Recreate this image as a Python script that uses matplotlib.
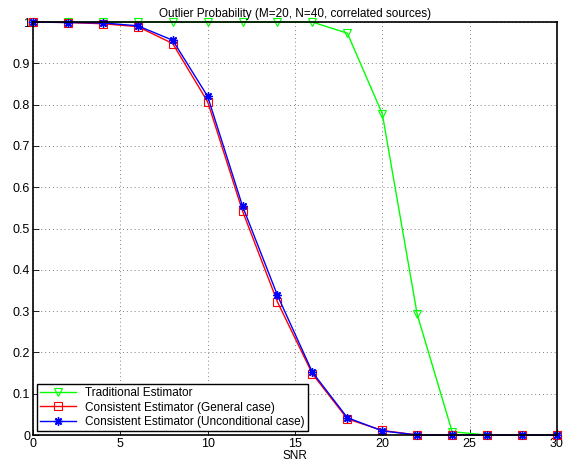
import matplotlib.pyplot as plt

plt.rcParams['font.family'] = ['Liberation Sans', 'DejaVu Sans']
plt.rcParams['font.size'] = 8

# data
snr = [0, 2, 4, 6, 8, 10, 12, 14, 16, 18, 20, 22, 24, 26, 28, 30]
traditional = [1, 1, 1, 1, 1, 1, 1, 1, 1, 0.973, 0.778, 0.292, 0.008, 0, 0, 0]
general = [1, 0.999, 0.996, 0.989, 0.948, 0.807, 0.542, 0.322, 0.148, 0.039, 0.011, 0, 0, 0, 0, 0]
uncond = [1, 0.999, 0.998, 0.991, 0.956, 0.820, 0.554, 0.338, 0.152, 0.042, 0.010, 0, 0, 0, 0, 0]

fig = plt.figure(figsize=(5.77, 4.65), dpi=100)
ax = fig.add_axes([0.0572, 0.0645, 0.908, 0.888])

ax.plot(snr, traditional, color='#00ff00', lw=1, marker='v', ms=6,
        mfc='none', mec='#00ff00', mew=0.8, label='Traditional Estimator', clip_on=False)
ax.plot(snr, general, color='red', lw=1, marker='s', ms=5.5,
        mfc='none', mec='red', mew=0.8, label='Consistent Estimator (General case)', clip_on=False)
ax.plot(snr, uncond, color='blue', lw=1, marker=(8, 2, 0), ms=6,
        mec='blue', mew=1, label='Consistent Estimator (Unconditional case)', clip_on=False)

ax.set_xlim(0, 30)
ax.set_ylim(0, 1)
ax.set_xticks(range(0, 31, 5))
ax.set_yticks([i / 10 for i in range(11)])
ax.set_yticklabels(['0', '0.1', '0.2', '0.3', '0.4', '0.5', '0.6', '0.7', '0.8', '0.9', '1'])
ax.tick_params(direction='in', length=4, width=0.6, pad=2, labelsize=9)
ax.grid(True, linestyle=(0, (1, 3)), color='#808080', lw=0.7)
for s in ax.spines.values():
    s.set_linewidth(1.2)

ax.set_xlabel('SNR', labelpad=0, fontsize=8.5)
ax.set_title('Outlier Probability (M=20, N=40, correlated sources)', fontsize=8.5, pad=4)

leg = ax.legend(loc='lower left', fancybox=False, edgecolor='black', framealpha=1,
                borderpad=0.3, labelspacing=0.2, handlelength=3, borderaxespad=0.3,
                fontsize=8.5)
leg.get_frame().set_linewidth(1)

fig.savefig('out.png', dpi=100)
